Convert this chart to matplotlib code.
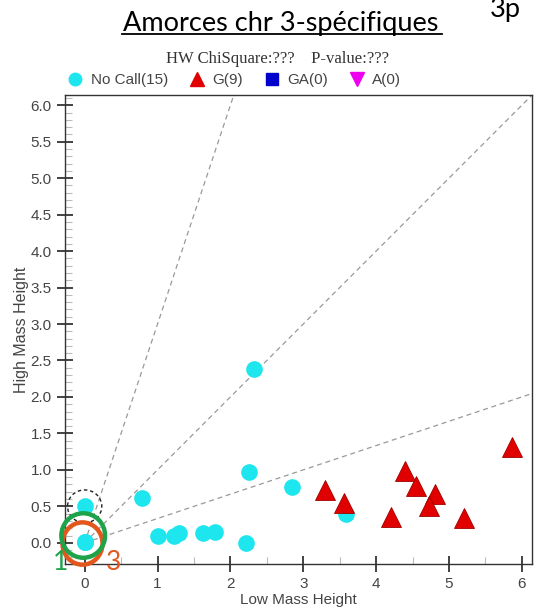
import matplotlib
matplotlib.use('Agg')
import matplotlib.pyplot as plt
from matplotlib.lines import Line2D
from matplotlib.patches import Ellipse
from matplotlib.ticker import MultipleLocator

# no call points (3 of them sit on the origin)
nocall_x = [0.0, 0.0, 0.0, 0.0, 0.78, 1.01, 1.22, 1.30, 1.63, 1.79, 2.22, 2.26, 2.33, 2.85, 3.59]
nocall_y = [0.50, 0.01, 0.01, 0.01, 0.62, 0.10, 0.09, 0.13, 0.13, 0.15, 0.00, 0.97, 2.38, 0.76, 0.40]
# G calls
g_x = [3.30, 3.56, 4.39, 4.55, 4.81, 4.72, 4.20, 5.21, 5.87]
g_y = [0.72, 0.54, 0.99, 0.78, 0.67, 0.51, 0.36, 0.34, 1.32]
ga_x, ga_y = [], []
a_x, a_y = [], []
# cluster boundary slopes
slopes = [3.0, 1.0, 1.0 / 3.0]

fig = plt.figure(figsize=(5.35, 6.15), dpi=100)
ax = fig.add_axes([0.1215, 0.083, 0.873, 0.7625])

for s in slopes:
    ax.plot([0, 7], [0, 7 * s], ls=(0, (4, 3)), color='#999999', lw=0.9, zorder=1)

ax.plot(nocall_x, nocall_y, 'o', color='#1ee6ee', ms=12, mew=0, zorder=3)
ax.plot(g_x, g_y, '^', color='#e00000', mec='#a00000', mew=0.6, ms=14, zorder=4)
ax.plot(ga_x, ga_y, 's', color='#0000cc', ms=9)
ax.plot(a_x, a_y, 'v', color='#ee00ee', ms=10)

# annotation circles
ax.add_patch(Ellipse((0.0, 0.5), 0.47, 0.45, fill=False, ec='#222222', ls=(0, (2.5, 2)), lw=1.0,
                     zorder=5, clip_on=False))
ax.add_patch(Ellipse((-0.02, 0.10), 0.60, 0.61, fill=False, ec='#1fa34a', lw=3.2, zorder=6, clip_on=False))
ax.add_patch(Ellipse((-0.03, -0.01), 0.55, 0.58, fill=False, ec='#e2571c', lw=3.2, zorder=5, clip_on=False))
ax.text(-0.33, -0.27, '1', color='#1fa34a', fontsize=19, family='Lato', ha='center', va='center',
        clip_on=False, zorder=7)
ax.text(0.39, -0.27, '3', color='#e2571c', fontsize=19, family='Lato', ha='center', va='center',
        clip_on=False, zorder=7)

ax.set_xlim(-0.27, 6.14)
ax.set_ylim(-0.29, 6.14)
ax.xaxis.set_major_locator(MultipleLocator(1))
ax.xaxis.set_minor_locator(MultipleLocator(0.5))
ax.yaxis.set_major_locator(MultipleLocator(0.5))
ax.yaxis.set_minor_locator(MultipleLocator(0.1))
ax.xaxis.set_major_formatter(matplotlib.ticker.FormatStrFormatter('%d'))
ax.yaxis.set_major_formatter(matplotlib.ticker.FormatStrFormatter('%.1f'))
ax.tick_params(which='major', direction='inout', length=12, width=1.2, color='#222222',
               labelsize=11, labelcolor='#444444')
ax.tick_params(which='minor', direction='in', length=5, width=0.8, color='#bbbbbb')
for lab in ax.get_xticklabels() + ax.get_yticklabels():
    lab.set_family('Liberation Sans')
for sp in ax.spines.values():
    sp.set_color('#333333')
    sp.set_linewidth(1.0)

ax.set_xlabel('Low Mass Height', family='Liberation Sans', fontsize=11, color='#444444', labelpad=1)
ax.set_ylabel('High Mass Height', family='Liberation Sans', fontsize=11.5, color='#444444', labelpad=1)

handles = [Line2D([], [], marker='o', ls='', color='#1ee6ee', ms=9),
           Line2D([], [], marker='^', ls='', color='#e00000', ms=10),
           Line2D([], [], marker='s', ls='', color='#0000cc', ms=8),
           Line2D([], [], marker='v', ls='', color='#ee00ee', ms=10)]
labels = ['No Call(%d)' % len(nocall_x), 'G(%d)' % len(g_x), 'GA(%d)' % len(ga_x), 'A(%d)' % len(a_x)]
fig.legend(handles, labels, loc='center', bbox_to_anchor=(0.437, 0.870), ncol=4, frameon=False,
           prop={'family': 'Liberation Sans', 'size': 11}, labelcolor='#444444',
           handletextpad=0.4, columnspacing=1.3, handlelength=1.2)

fig.text(0.518, 0.904, 'HW ChiSquare:???    P-value:???', family='Liberation Serif', fontsize=12,
         color='#333333', ha='center', va='center')
fig.text(0.525, 0.961, 'Amorces chr 3-spécifiques', family='Lato', fontsize=19.5, ha='center',
         va='center', color='black')
fig.add_artist(Line2D([0.228, 0.826], [0.944, 0.944], color='black', lw=1.3))
fig.text(0.916, 0.985, '3p', family='Lato', fontsize=19.5, ha='left', va='center')

fig.savefig('out.png', dpi=100)
